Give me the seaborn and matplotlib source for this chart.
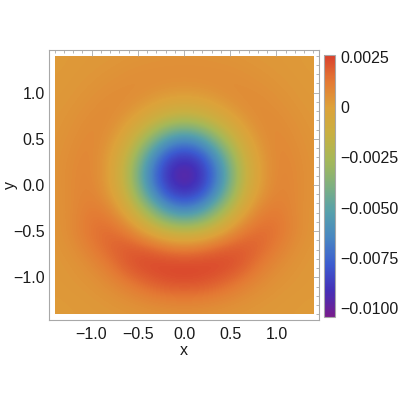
import numpy as np
import matplotlib
matplotlib.use("Agg")
import matplotlib.pyplot as plt
from matplotlib.patches import Rectangle
from matplotlib.ticker import MultipleLocator, FixedLocator
import seaborn as sns

# ---- data (in units of 1e-4) ----
x_values = [-1.4, -1.2, -1.0, -0.8, -0.6, -0.4, -0.2, 0.0, 0.2, 0.4, 0.6, 0.8, 1.0, 1.2, 1.4]
y_values = [1.5, 1.3, 1.1, 0.9, 0.7, 0.5, 0.3, 0.1, -0.1, -0.3, -0.5, -0.7, -0.9, -1.1, -1.3, -1.5]
value_unit = 1e-4
z_row_p15 = [2.0, 2.5, 3.0, 3.1, 3.2, 3.5, 3.8, 3.8, 3.8, 3.5, 3.2, 3.1, 3.0, 2.5, 2.0]
z_row_p13 = [2.2, 2.8, 3.2, 3.6, 4.5, 5.2, 5.7, 5.9, 5.7, 5.2, 4.5, 3.6, 3.2, 2.8, 2.2]
z_row_p11 = [2.6, 3.2, 3.9, 5.2, 6.5, 6.9, 6.4, 6.1, 6.4, 6.9, 6.5, 5.2, 3.9, 3.2, 2.6]
z_row_p09 = [3.0, 3.7, 5.4, 7.3, 6.7, 3.5, -0.3, -1.8, -0.3, 3.5, 6.7, 7.3, 5.4, 3.7, 3.0]
z_row_p07 = [3.3, 4.8, 7.2, 7.3, 1.8, -7.0, -17.0, -22.0, -17.0, -7.0, 1.8, 7.3, 7.2, 4.8, 3.3]
z_row_p05 = [3.7, 6.0, 8.4, 4.7, -7.0, -28.0, -53.0, -64.0, -53.0, -28.0, -7.0, 4.7, 8.4, 6.0, 3.7]
z_row_p03 = [4.1, 7.2, 8.8, 1.3, -17.0, -53.0, -83.0, -91.0, -83.0, -53.0, -17.0, 1.3, 8.8, 7.2, 4.1]
z_row_p01 = [4.3, 7.8, 9.1, 0.1, -22.0, -64.0, -91.0, -102.0, -91.0, -64.0, -22.0, 0.1, 9.1, 7.8, 4.3]
z_row_m01 = [4.2, 7.7, 9.9, 2.4, -16.5, -53.0, -83.0, -91.0, -83.0, -53.0, -16.5, 2.4, 9.9, 7.7, 4.2]
z_row_m03 = [3.9, 7.5, 13.0, 10.0, -4.5, -26.5, -52.0, -63.0, -52.0, -26.5, -4.5, 10.0, 13.0, 7.5, 3.9]
z_row_m05 = [3.5, 8.0, 14.5, 16.5, 11.0, -2.0, -13.4, -18.0, -13.4, -2.0, 11.0, 16.5, 14.5, 8.0, 3.5]
z_row_m07 = [3.2, 5.5, 11.5, 17.5, 21.0, 20.0, 15.5, 13.0, 15.5, 20.0, 21.0, 17.5, 11.5, 5.5, 3.2]
z_row_m09 = [3.0, 3.8, 6.5, 12.5, 20.0, 24.0, 25.5, 26.0, 25.5, 24.0, 20.0, 12.5, 6.5, 3.8, 3.0]
z_row_m11 = [2.8, 3.3, 4.0, 6.5, 11.0, 16.0, 19.5, 20.5, 19.5, 16.0, 11.0, 6.5, 4.0, 3.3, 2.8]
z_row_m13 = [2.2, 2.6, 3.0, 3.5, 4.6, 6.2, 7.6, 8.2, 7.6, 6.2, 4.6, 3.5, 3.0, 2.6, 2.2]
z_row_m15 = [2.0, 2.4, 2.8, 3.0, 3.1, 3.3, 3.5, 3.6, 3.5, 3.3, 3.1, 3.0, 2.8, 2.4, 2.0]

color_min = -0.01045
color_max = 0.0026
cbar_ticks = [-0.0100, -0.0075, -0.0050, -0.0025, 0.0, 0.0025]
cbar_tick_labels = ["\u22120.0100", "\u22120.0075", "\u22120.0050", "\u22120.0025", "0", "0.0025"]
axis_ticks = [-1.0, -0.5, 0.0, 0.5, 1.0]
axis_tick_labels = ["\u22121.0", "\u22120.5", "0.0", "0.5", "1.0"]
plot_range = 1.4

rainbow_colors = ["#781C8C", "#4430B8", "#3C5CD0", "#4886C2", "#56A0AC", "#7EB080",
                  "#A6B858", "#C8B042", "#DDA23A", "#E47A34", "#D9402C"]

# ---- build field ----
z = np.array([z_row_p15, z_row_p13, z_row_p11, z_row_p09, z_row_p07, z_row_p05,
              z_row_p03, z_row_p01, z_row_m01, z_row_m03, z_row_m05, z_row_m07,
              z_row_m09, z_row_m11, z_row_m13, z_row_m15]) * value_unit
xs = np.array(x_values)
ys = np.array(y_values)
dx = xs[1] - xs[0]
dy = ys[0] - ys[1]

sns.set_style("white")
plt.rcParams['font.family'] = ['Liberation Sans', 'DejaVu Sans']
plt.rcParams['axes.unicode_minus'] = True

cmap = sns.blend_palette(rainbow_colors, as_cmap=True)
cmap.set_under(rainbow_colors[0])
cmap.set_over(rainbow_colors[-1])

fig = plt.figure(figsize=(4, 4), dpi=100)
ax = fig.add_axes([0.1225, 0.2, 0.675, 0.675])
ax.set_facecolor("white")

im = ax.imshow(z, cmap=cmap, vmin=color_min, vmax=color_max,
               extent=(xs[0] - dx / 2, xs[-1] + dx / 2, ys[-1] - dy / 2, ys[0] + dy / 2),
               origin="upper", interpolation="bicubic", interpolation_stage="data",
               aspect="auto")
clip = Rectangle((-plot_range, -plot_range), 2 * plot_range, 2 * plot_range,
                 transform=ax.transData, facecolor="none", edgecolor="none")
ax.add_patch(clip)
im.set_clip_path(clip)

ax.set_xlim(-1.46, 1.46)
ax.set_ylim(-1.46, 1.46)

frame_color = "#a8a8a8"
for sp in ax.spines.values():
    sp.set_color(frame_color)
    sp.set_linewidth(0.8)

ax.xaxis.set_major_locator(FixedLocator(axis_ticks))
ax.yaxis.set_major_locator(FixedLocator(axis_ticks))
ax.set_xticklabels(axis_tick_labels)
ax.set_yticklabels(axis_tick_labels)
ax.xaxis.set_minor_locator(MultipleLocator(0.1))
ax.yaxis.set_minor_locator(MultipleLocator(0.1))
ax.tick_params(which="both", direction="in", top=True, right=True, color=frame_color,
               width=0.6, labelsize=11.5, labelcolor="#1a1a1a", pad=5)
ax.tick_params(axis="y", which="both", pad=3)
ax.tick_params(which="major", length=4.5)
ax.tick_params(which="minor", length=2.5)

ax.set_xlabel("x", fontsize=11.5, color="#1a1a1a", labelpad=1)
ax.set_ylabel("y", fontsize=11.5, color="#1a1a1a")
ax.yaxis.set_label_coords(-0.115, 0.5)

cax = fig.add_axes([0.81, 0.2075, 0.0275, 0.655])
cb = fig.colorbar(im, cax=cax)
cb.outline.set_edgecolor(frame_color)
cb.outline.set_linewidth(0.8)
cb.set_ticks(cbar_ticks)
cb.set_ticklabels(cbar_tick_labels)
cax.yaxis.set_minor_locator(MultipleLocator(0.0005))
cax.tick_params(which="both", direction="in", color="#c8c8c8", width=0.5,
                labelsize=11.5, labelcolor="#1a1a1a", pad=4)
cax.tick_params(which="major", length=3)
cax.tick_params(which="minor", length=2)

fig.savefig("out.png", dpi=100)
